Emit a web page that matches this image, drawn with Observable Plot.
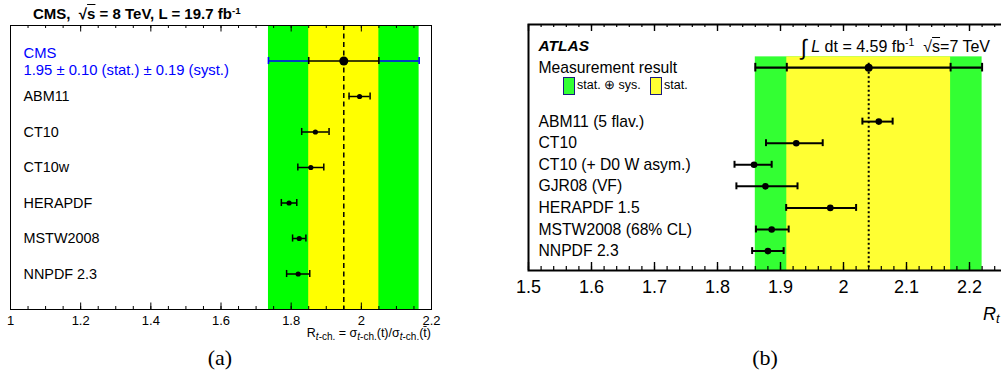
<!DOCTYPE html>
<html><head><meta charset="utf-8">
<script src="https://cdn.jsdelivr.net/npm/d3@7"></script>
<script src="https://cdn.jsdelivr.net/npm/@observablehq/plot@0.6"></script>
<style>
html,body{margin:0;padding:0;background:#fff;width:1001px;height:383px;overflow:hidden;font-family:"Liberation Sans",Arial,sans-serif;color:#000}
#wrap{position:relative;width:1001px;height:383px;overflow:hidden}
.panel{position:absolute;top:0}
.ann{position:absolute;white-space:nowrap;line-height:1}
.ov{text-decoration:overline}
sub{font-size:72%;vertical-align:-0.25em;line-height:0}
sup{font-size:65%;vertical-align:0.55em;line-height:0}
.serif{font-family:"Liberation Serif","Times New Roman",serif;font-size:22px}
.box{position:absolute;width:10px;height:16px;border:1px solid #1a1a80}
</style></head>
<body><div id="wrap"></div>
<script>
// ---------- panel (a): CMS, 8 TeV ----------
const cmsPdfNames   = ["ABM11", "CT10", "CT10w", "HERAPDF", "MSTW2008", "NNPDF 2.3"];
const cmsPdfValues  = [1.995, 1.869, 1.856, 1.794, 1.823, 1.820];
const cmsPdfErrors  = [0.030, 0.039, 0.037, 0.022, 0.019, 0.033];
const cmsResult     = [1.95];
const cmsStat       = [0.10];
const cmsSyst       = [0.19];
const cmsTickLabels = [1, 1.2, 1.4, 1.6, 1.8, 2, 2.2];

// ---------- panel (b): ATLAS, 7 TeV ----------
const atlasPdfNames  = ["ABM11 (5 flav.)", "CT10", "CT10 (+ D0 W asym.)", "GJR08 (VF)", "HERAPDF 1.5", "MSTW2008 (68% CL)", "NNPDF 2.3"];
const atlasPdfValues = [2.056, 1.925, 1.858, 1.876, 1.979, 1.886, 1.880];
const atlasPdfLow    = [2.030, 1.877, 1.827, 1.830, 1.909, 1.861, 1.855];
const atlasPdfHigh   = [2.078, 1.967, 1.886, 1.927, 2.020, 1.913, 1.905];
const atlasResult    = [2.04];
const atlasStat      = [0.13];
const atlasTotal     = [0.18];
const atlasTickLabels = [1.5, 1.6, 1.7, 1.8, 1.9, 2, 2.1, 2.2];
const atlasMajorTicks = [1.5, 1.6, 1.7, 1.8, 1.9, 2, 2.1, 2.2, 2.3];

const BLUE = "#0000ff";
const wrap = document.getElementById("wrap");
const font = '"Liberation Sans", Arial, sans-serif';

// ================= Panel A =================
{
  const W = 450, H = 383, mt = 25, mb = 74, ml = 10, mr = 19;
  const fh = H - mt - mb;
  const v = cmsResult[0], s = cmsStat[0], t = Math.hypot(cmsStat[0], cmsSyst[0]);
  const measRow = 1;
  const bands = [{x1: v - t, x2: v + t, fill: "#00ff00"}, {x1: v - s, x2: v + s, fill: "#ffff00"}];
  const segs = [{x1: v - t, x2: v - s, c: BLUE}, {x1: v - s, x2: v + s, c: "#000"}, {x1: v + s, x2: v + t, c: BLUE}];
  const caps = [{x: v - t, c: BLUE}, {x: v - s, c: "#000"}, {x: v + s, c: "#000"}, {x: v + t, c: BLUE}];
  const rows = cmsPdfNames.map((name, i) => ({name, y: i + 2, v: cmsPdfValues[i], lo: cmsPdfValues[i] - cmsPdfErrors[i], hi: cmsPdfValues[i] + cmsPdfErrors[i]}));
  const minor = d3.range(0, 25).map(i => 1 + i * 0.05);
  const label = `CMS\n${v.toFixed(2)} ± ${s.toFixed(2)} (stat.) ± ${cmsSyst[0].toFixed(2)} (syst.)`;
  const p = Plot.plot({
    width: W, height: H, marginTop: mt, marginBottom: mb, marginLeft: ml, marginRight: mr,
    x: {domain: [1, 2.2]},
    y: {domain: [0, 8], reverse: true, axis: null},
    color: {type: "identity"},
    style: {fontFamily: font, fontSize: "13px", background: "transparent", color: "#000", overflow: "visible"},
    marks: [
      Plot.rect(bands, {x1: "x1", x2: "x2", fill: "fill"}),
      Plot.ruleX(minor, {insetTop: fh - 3, strokeWidth: 1}),
      Plot.ruleX(minor, {insetBottom: fh - 3, strokeWidth: 1}),
      Plot.ruleX(cmsTickLabels, {insetTop: fh - 6.5, strokeWidth: 1}),
      Plot.ruleX(cmsTickLabels, {insetBottom: fh - 6.5, strokeWidth: 1}),
      Plot.ruleX(cmsResult, {stroke: "#000", strokeWidth: 1.5, strokeDasharray: "5,3.5"}),
      Plot.ruleY(segs, {x1: "x1", x2: "x2", y: () => measRow, stroke: "c", strokeWidth: 1.6}),
      Plot.ruleX(caps, {x: "x", y1: () => measRow - 0.1, y2: () => measRow + 0.1, stroke: "c", strokeWidth: 1.6}),
      Plot.dot(cmsResult, {x: d => d, y: () => measRow, r: 4.5, fill: "#000"}),
      Plot.ruleY(rows, {x1: "lo", x2: "hi", y: "y", strokeWidth: 1.5}),
      Plot.ruleX(rows, {x: "lo", y1: d => d.y - 0.1, y2: d => d.y + 0.1, strokeWidth: 1.5}),
      Plot.ruleX(rows, {x: "hi", y1: d => d.y - 0.1, y2: d => d.y + 0.1, strokeWidth: 1.5}),
      Plot.dot(rows, {x: "v", y: "y", r: 2.6, fill: "#000"}),
      Plot.text(rows, {y: "y", text: "name", frameAnchor: "left", dx: 13, textAnchor: "start", fontSize: 14.4, fill: "#000"}),
      Plot.text([label], {y: () => measRow, text: d => d, frameAnchor: "left", dx: 13, textAnchor: "start", fontSize: 14.8, lineHeight: 1.17, fill: BLUE}),
      Plot.frame({stroke: "#000", strokeWidth: 1}),
      Plot.axisX({ticks: cmsTickLabels, tickSize: 0, tickPadding: 6, fontSize: 13, tickFormat: d => String(d), label: null})
    ]
  });
  p.classList.add("panel");
  p.style.left = "0px";
  wrap.appendChild(p);
}

// ================= Panel B =================
{
  const W = 560, H = 383, mt = 24, mb = 113, ml = 28, mr = 28;
  const fh = H - mt - mb;
  const yDom = [-4.5, 6.9];
  const v = atlasResult[0], s = atlasStat[0], t = atlasTotal[0];
  const measRow = -2.5, bandTop = -3.0, headRow = -3.5;
  const bands = [{x1: v - t, x2: v + t, fill: "#33ff33"}, {x1: v - s, x2: v + s, fill: "#ffff33"}];
  const caps = [v - t, v - s, v + s, v + t];
  const rows = atlasPdfNames.map((name, i) => ({name, y: i, v: atlasPdfValues[i], lo: atlasPdfLow[i], hi: atlasPdfHigh[i]}));
  const minor = d3.range(0, 41).map(i => 1.5 + i * 0.02);
  const p = Plot.plot({
    width: W, height: H, marginTop: mt, marginBottom: mb, marginLeft: ml, marginRight: mr,
    x: {domain: [1.5, 2.3]},
    y: {domain: yDom, reverse: true, axis: null},
    color: {type: "identity"},
    style: {fontFamily: font, fontSize: "15px", background: "transparent", color: "#000", overflow: "visible"},
    marks: [
      Plot.rect(bands, {x1: "x1", x2: "x2", y1: () => bandTop, y2: () => yDom[1], fill: "fill"}),
      Plot.ruleX(minor, {insetTop: fh - 4, strokeWidth: 1.2}),
      Plot.ruleX(minor, {insetBottom: fh - 3, strokeWidth: 1.2}),
      Plot.ruleX(atlasMajorTicks, {insetTop: fh - 8, strokeWidth: 1.4}),
      Plot.ruleX(atlasMajorTicks, {insetBottom: fh - 7, strokeWidth: 1.4}),
      Plot.ruleX(atlasResult, {y1: () => bandTop + 0.3, y2: () => yDom[1], stroke: "#000", strokeWidth: 2, strokeDasharray: "2,2.5"}),
      Plot.ruleY([{x1: v - t, x2: v + t}], {x1: "x1", x2: "x2", y: () => measRow, strokeWidth: 2.2}),
      Plot.ruleX(caps, {x: d => d, y1: () => measRow - 0.2, y2: () => measRow + 0.2, strokeWidth: 2}),
      Plot.dot(atlasResult, {x: d => d, y: () => measRow, r: 4, fill: "#000"}),
      Plot.ruleY(rows, {x1: "lo", x2: "hi", y: "y", strokeWidth: 2}),
      Plot.ruleX(rows, {x: "lo", y1: d => d.y - 0.16, y2: d => d.y + 0.16, strokeWidth: 2}),
      Plot.ruleX(rows, {x: "hi", y1: d => d.y - 0.16, y2: d => d.y + 0.16, strokeWidth: 2}),
      Plot.dot(rows, {x: "v", y: "y", r: 3.3, fill: "#000"}),
      Plot.text(rows, {y: "y", text: "name", frameAnchor: "left", dx: 10, textAnchor: "start", fontSize: 15.7, fill: "#000"}),
      Plot.text(["ATLAS"], {y: () => headRow, text: d => d, frameAnchor: "left", dx: 10, textAnchor: "start", fontSize: 15.5, fontWeight: "bold", fontStyle: "italic", fill: "#000"}),
      Plot.text(["Measurement result"], {y: () => measRow, text: d => d, frameAnchor: "left", dx: 10, textAnchor: "start", fontSize: 15.7, fill: "#000"}),
      Plot.frame({stroke: "#000", strokeWidth: 2}),
      Plot.axisX({ticks: atlasTickLabels, tickSize: 0, tickPadding: 10, fontSize: 18, tickFormat: d => String(d), label: null})
    ]
  });
  p.classList.add("panel");
  p.style.left = "500px";
  wrap.appendChild(p);
}

// ================= annotations =================
function ann(html, css) {
  const d = document.createElement("div");
  d.className = "ann";
  d.innerHTML = html;
  Object.assign(d.style, css);
  wrap.appendChild(d);
  return d;
}
ann('CMS,&nbsp; √<span class="ov">s</span> = 8 TeV, L = 19.7 fb<sup>-1</sup>', {left: "33px", top: "5.5px", fontSize: "15px", fontWeight: "bold"});
ann('R<sub style="font-size:80%"><i>t</i>-ch.</sub> = σ<sub style="font-size:80%"><i>t</i>-ch.</sub>(t)/σ<sub style="font-size:80%"><i>t</i>-ch.</sub>(t\u0304)', {right: (1001 - 431) + "px", top: "327px", fontSize: "12.5px"});
ann('(a)', {left: "170px", width: "100px", textAlign: "center", top: "347px"}).classList.add("serif");

ann('<span style="font-size:22px;vertical-align:-3px">∫</span>&nbsp;<i>L</i> dt = 4.59 fb<sup>-1</sup>&nbsp;&nbsp;√<span class="ov">s</span>=7 TeV', {right: (1001 - 990) + "px", top: "37px", fontSize: "16px"});
ann('<i>R<sub>t</sub></i>', {left: "983px", top: "304.5px", fontSize: "18px"});
ann('(b)', {left: "715px", width: "100px", textAlign: "center", top: "347px"}).classList.add("serif");

// legend
const lg1 = document.createElement("div"); lg1.className = "box"; Object.assign(lg1.style, {left: "563px", top: "77px", background: "#33ff33"}); wrap.appendChild(lg1);
const lg2 = document.createElement("div"); lg2.className = "box"; Object.assign(lg2.style, {left: "650px", top: "77px", background: "#ffff33"}); wrap.appendChild(lg2);
ann('stat. ⊕ sys.', {left: "577px", top: "79px", fontSize: "12.5px"});
ann('stat.', {left: "664px", top: "79px", fontSize: "12.5px"});
</script>
</body></html>
